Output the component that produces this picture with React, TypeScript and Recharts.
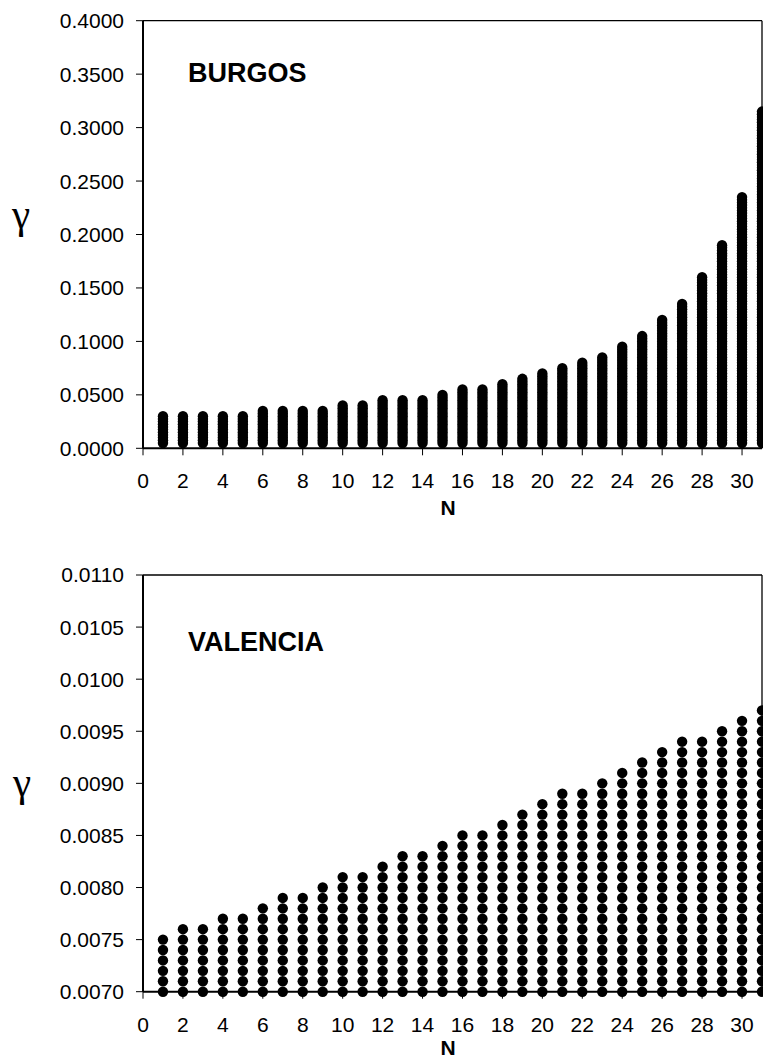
import React from 'react';
import { ScatterChart, Scatter, XAxis, YAxis, ReferenceLine } from 'recharts';

// N = number of terms, one column of gamma values per N
const nValues = [
  1, 2, 3, 4, 5, 6, 7, 8, 9, 10, 11, 12, 13, 14, 15, 16,
  17, 18, 19, 20, 21, 22, 23, 24, 25, 26, 27, 28, 29, 30, 31,
];

// highest gamma reached in each column
const burgosMax = [
  0.03, 0.03, 0.03, 0.03, 0.03, 0.035, 0.035, 0.035, 0.035, 0.04, 0.04,
  0.045, 0.045, 0.045, 0.05, 0.055, 0.055, 0.06, 0.065, 0.07, 0.075, 0.08,
  0.085, 0.095, 0.105, 0.12, 0.135, 0.16, 0.19, 0.235, 0.315,
];
const burgosMin = 0.005;
const burgosStep = 0.0025;

const valenciaMax = [
  0.0075, 0.0076, 0.0076, 0.0077, 0.0077, 0.0078, 0.0079, 0.0079, 0.008,
  0.0081, 0.0081, 0.0082, 0.0083, 0.0083, 0.0084, 0.0085, 0.0085, 0.0086,
  0.0087, 0.0088, 0.0089, 0.0089, 0.009, 0.0091, 0.0092, 0.0093, 0.0094,
  0.0094, 0.0095, 0.0096, 0.0097,
];
const valenciaMin = 0.007;
const valenciaStep = 0.0001;

const xTicks = [0, 2, 4, 6, 8, 10, 12, 14, 16, 18, 20, 22, 24, 26, 28, 30];
const burgosTicks = [0, 0.05, 0.1, 0.15, 0.2, 0.25, 0.3, 0.35, 0.4];
const valenciaTicks = [0.007, 0.0075, 0.008, 0.0085, 0.009, 0.0095, 0.01, 0.0105, 0.011];

const sans = '"Liberation Sans", Arial, sans-serif';
const serif = '"Liberation Serif", "Times New Roman", serif';

// every column is a stack of dots from min up to its max
const buildColumns = (maxima: number[], min: number, step: number) => {
  const pts: { x: number; y: number }[] = [];
  nValues.forEach((n, i) => {
    const count = Math.round((maxima[i] - min) / step);
    for (let k = 0; k <= count; k++) {
      pts.push({ x: n, y: +(min + k * step).toFixed(6) });
    }
  });
  return pts;
};

const Dot = (props: any) => <circle cx={props.cx} cy={props.cy} r={5.2} fill="#000" />;

interface PanelProps {
  data: { x: number; y: number }[];
  yTicks: number[];
  top: number;
  height: number;
  plotTop: number;
  xAxisHeight: number;
}

const Panel = ({ data, yTicks, top, height, plotTop, xAxisHeight }: PanelProps) => (
  <div style={{ position: 'absolute', left: 0, top }}>
    <ScatterChart
      width={763}
      height={height}
      margin={{ top: plotTop, right: 1, left: 0, bottom: 0 }}
    >
      <XAxis
        type="number"
        dataKey="x"
        domain={[0, 31]}
        ticks={xTicks}
        interval={0}
        height={xAxisHeight}
        tickSize={7}
        tickMargin={18}
        axisLine={{ stroke: '#000', strokeWidth: 2 }}
        tickLine={{ stroke: '#000' }}
        tick={{ fill: '#000', fontSize: 21, fontFamily: sans }}
      />
      <YAxis
        type="number"
        dataKey="y"
        domain={[yTicks[0], yTicks[yTicks.length - 1]]}
        ticks={yTicks}
        interval={0}
        width={143}
        tickSize={7}
        tickMargin={12}
        tickFormatter={(v: number) => v.toFixed(4)}
        axisLine={{ stroke: '#000', strokeWidth: 2 }}
        tickLine={{ stroke: '#000' }}
        tick={{ fill: '#000', fontSize: 21, fontFamily: sans }}
      />
      <ReferenceLine y={yTicks[yTicks.length - 1]} stroke="#000" strokeWidth={1.3} />
      <ReferenceLine x={31} stroke="#000" strokeWidth={1.3} />
      <Scatter data={data} shape={Dot} isAnimationActive={false} />
    </ScatterChart>
  </div>
);

const label = (text: string, left: number, top: number, size: number, extra: React.CSSProperties = {}) => (
  <div
    style={{
      position: 'absolute',
      left,
      top,
      fontSize: size,
      lineHeight: 1,
      fontFamily: sans,
      color: '#000',
      whiteSpace: 'nowrap',
      ...extra,
    }}
  >
    {text}
  </div>
);

export default function App() {
  const burgos = buildColumns(burgosMax, burgosMin, burgosStep);
  const valencia = buildColumns(valenciaMax, valenciaMin, valenciaStep);

  return (
    <div style={{ position: 'absolute', left: 0, top: 0, width: 763, height: 1059, overflow: 'hidden', background: '#fff' }}>
      <Panel data={burgos} yTicks={burgosTicks} top={0} height={530} plotTop={20.7} xAxisHeight={81.7} />
      <Panel data={valencia} yTicks={valenciaTicks} top={540} height={519} plotTop={35} xAxisHeight={67.3} />

      {label('BURGOS', 188, 59.8, 27, { fontWeight: 'bold' })}
      {label('VALENCIA', 188, 629.2, 27, { fontWeight: 'bold' })}

      {label('γ', 12, 194, 41, { fontFamily: serif })}
      {label('γ', 13, 762, 41, { fontFamily: serif })}

      {label('N', 448, 497.3, 21, { fontWeight: 'bold', transform: 'translateX(-50%)' })}
      {label('N', 448, 1039.5, 21, { fontWeight: 'bold', lineHeight: 0.8, transform: 'translateX(-50%)' })}
    </div>
  );
}
